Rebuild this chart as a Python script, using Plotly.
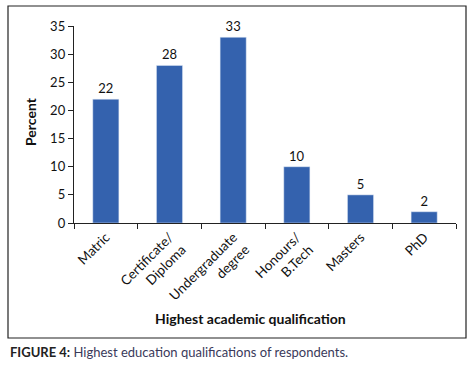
import plotly.graph_objects as go

categories = ["Matric", "Certificate/<br>Diploma", "Undergraduate<br>degree", "Honours/<br>B.Tech", "Masters", "PhD"]
percent = [22, 28, 33, 10, 5, 2]
y_ticks = [0, 5, 10, 15, 20, 25, 30, 35]

W, H = 475, 376
L, R, T, B = 74, 19, 26, 153
pw = W - L - R
ph = H - T - B

def px(x):
    return (x - L) / pw

def py(y):
    return (H - B - y) / ph

FONT = "Lato, 'Open Sans', sans-serif"
fig = go.Figure(go.Bar(
    x=categories, y=percent,
    marker_color="#3462ae",
    width=0.41,
    text=[str(v) for v in percent],
    textposition="outside",
    textfont=dict(size=13, color="#111111", family=FONT),
    cliponaxis=False,
    hoverinfo="skip",
))

fig.update_layout(
    width=W, height=H,
    margin=dict(l=L, r=R, t=T, b=B, autoexpand=False),
    paper_bgcolor="white", plot_bgcolor="white",
    font=dict(family=FONT, size=12, color="#111111"),
    showlegend=False,
    xaxis=dict(
        tickson="boundaries", ticks="outside", ticklen=5, tickcolor="#222",
        showline=True, linecolor="#222", linewidth=1.2, automargin=False,
        tickangle=-45, tickfont=dict(size=13.5, color="#111"),
        showgrid=False,
    ),
    yaxis=dict(
        range=[0, 35], tickvals=y_ticks, ticks="outside", ticklen=5, tickcolor="#222",
        showline=True, linecolor="#222", linewidth=1.2, automargin=False,
        showgrid=False, zeroline=False, tickfont=dict(size=13, color="#111"),
    ),
    shapes=[dict(type="rect", xref="paper", yref="paper",
                 x0=px(8), x1=px(466), y0=py(338), y1=py(6),
                 line=dict(color="#222", width=1.2), fillcolor="rgba(0,0,0,0)", layer="above")],
    annotations=[
        dict(text="<b>Highest academic qualification</b>", xref="paper", yref="paper",
             x=px(250), y=py(318), xanchor="center", yanchor="middle",
             showarrow=False, font=dict(size=14, color="#111")),
        dict(text="<b>Percent</b>", xref="paper", yref="paper", textangle=-90,
             x=px(30), y=py(122), xanchor="center", yanchor="middle",
             showarrow=False, font=dict(size=14, color="#111")),
        dict(text="<b>FIGURE 4:</b> <span style='color:#3a3a5a'>Highest education qualifications of respondents.</span>",
             xref="paper", yref="paper", x=px(8), y=py(352), xanchor="left", yanchor="middle",
             showarrow=False, font=dict(size=13, color="#222")),
    ],
)

fig.write_html("out.html", config={"displayModeBar": False, "staticPlot": True},
               post_script="document.body.style.margin='0';document.body.style.overflow='hidden';")
